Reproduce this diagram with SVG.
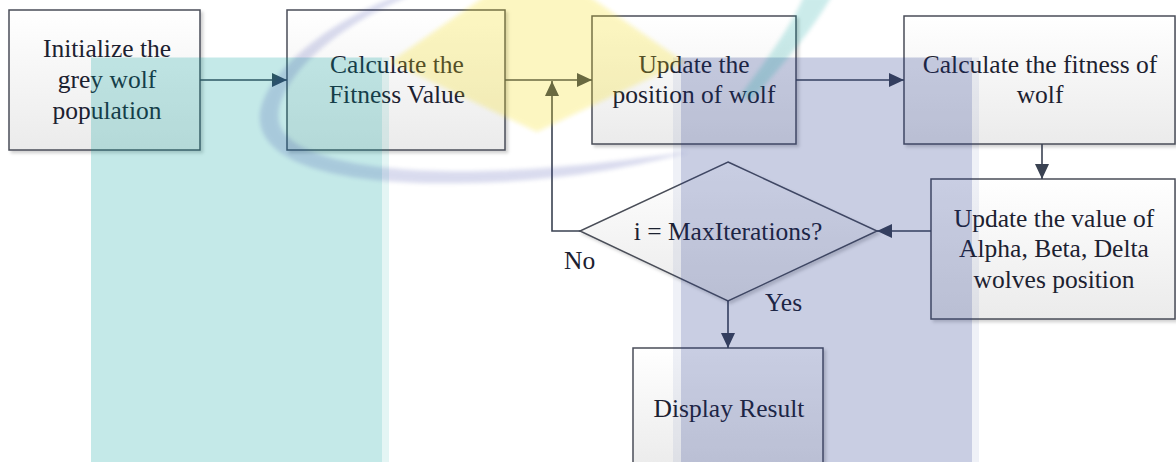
<svg xmlns="http://www.w3.org/2000/svg" width="1176" height="462" viewBox="0 0 1176 462" font-family="'Liberation Serif', 'Times New Roman', serif">
  <defs>
    <linearGradient id="boxFill" x1="0" y1="0" x2="0" y2="1">
      <stop offset="0" stop-color="#ffffff"/>
      <stop offset="1" stop-color="#ebebeb"/>
    </linearGradient>
    <filter id="shadow" x="-10%" y="-10%" width="125%" height="125%">
      <feDropShadow dx="2.5" dy="2.5" stdDeviation="1.5" flood-color="#000000" flood-opacity="0.18"/>
    </filter>
    <filter id="soft" x="-20%" y="-20%" width="140%" height="140%">
      <feGaussianBlur stdDeviation="2.2"/>
    </filter>
    <marker id="arrow" markerUnits="userSpaceOnUse" markerWidth="16" markerHeight="14" refX="15" refY="7" orient="auto">
      <path d="M0,0 L15,7 L0,14 Z" fill="#3a4252"/>
    </marker>
    <style>
      .box { fill: url(#boxFill); stroke: #4a4e58; stroke-width: 1.5; filter: url(#shadow); }
      .lbl { font-family: "Liberation Serif", "Times New Roman", serif; font-size: 25.5px; fill: #1c2130; text-anchor: middle; }
      .tag { font-family: "Liberation Serif", "Times New Roman", serif; font-size: 25.5px; fill: #1c2130; }
      .wire { fill: none; stroke: #3a4252; stroke-width: 1.6; }
      .teal { fill: #00a09b; }
      .navy { fill: #1e328c; }
    </style>
  </defs>

  <rect width="1176" height="462" fill="#ffffff"/>

  <!-- process nodes -->
  <g id="init">
    <rect class="box" x="9" y="10" width="191" height="140"/>
    <text class="lbl" font-family="Liberation Serif, serif" x="107" y="57">Initialize the</text>
    <text class="lbl" font-family="Liberation Serif, serif" x="107" y="88">grey wolf</text>
    <text class="lbl" font-family="Liberation Serif, serif" x="107" y="119">population</text>
  </g>
  <g id="fitness-value">
    <rect class="box" x="287" y="10" width="218" height="140"/>
    <text class="lbl" font-family="Liberation Serif, serif" x="397" y="73">Calculate the</text>
    <text class="lbl" font-family="Liberation Serif, serif" x="397" y="103">Fitness Value</text>
  </g>
  <g id="update-position">
    <rect class="box" x="592" y="16" width="204" height="128"/>
    <text class="lbl" font-family="Liberation Serif, serif" x="694" y="73">Update the</text>
    <text class="lbl" font-family="Liberation Serif, serif" x="694" y="103">position of wolf</text>
  </g>
  <g id="fitness-wolf">
    <rect class="box" x="904" y="16" width="271" height="128"/>
    <text class="lbl" font-family="Liberation Serif, serif" x="1040" y="73">Calculate the fitness of</text>
    <text class="lbl" font-family="Liberation Serif, serif" x="1040" y="103">wolf</text>
  </g>
  <g id="update-leaders">
    <rect class="box" x="931" y="179" width="244" height="140"/>
    <text class="lbl" font-family="Liberation Serif, serif" x="1054" y="227">Update the value of</text>
    <text class="lbl" font-family="Liberation Serif, serif" x="1054" y="257">Alpha, Beta, Delta</text>
    <text class="lbl" font-family="Liberation Serif, serif" x="1054" y="288">wolves position</text>
  </g>
  <g id="check">
    <polygon class="box" points="728,162 877,231 728,301 580,231"/>
    <text class="lbl" font-family="Liberation Serif, serif" x="728" y="240">i = MaxIterations?</text>
  </g>
  <g id="result">
    <rect class="box" x="633" y="348" width="190" height="122"/>
    <text class="lbl" font-family="Liberation Serif, serif" x="729" y="417">Display Result</text>
  </g>

  <!-- connectors -->
  <g id="connectors">
    <line class="wire" x1="200" y1="80" x2="287" y2="80" marker-end="url(#arrow)"/>
    <line class="wire" x1="505" y1="80" x2="592" y2="80" marker-end="url(#arrow)"/>
    <line class="wire" x1="796" y1="80" x2="904" y2="80" marker-end="url(#arrow)"/>
    <line class="wire" x1="1042" y1="144" x2="1042" y2="179" marker-end="url(#arrow)"/>
    <line class="wire" x1="931" y1="231" x2="877" y2="231" marker-end="url(#arrow)"/>
    <polyline class="wire" points="580,231 552,231 552,81" marker-end="url(#arrow)"/>
    <line class="wire" x1="728" y1="301" x2="728" y2="348" marker-end="url(#arrow)"/>
    <text class="tag" font-family="Liberation Serif, serif" x="564" y="269">No</text>
    <text class="tag" font-family="Liberation Serif, serif" x="765" y="311">Yes</text>
  </g>

  <!-- translucent background mark laid over the chart -->
  <g id="mark">
    <rect class="teal" x="91" y="57.5" width="291" height="410" opacity="0.23"/>
    <rect class="teal" x="382" y="57.5" width="7" height="410" opacity="0.105"/>
    <rect class="navy" x="673" y="57.5" width="8" height="410" opacity="0.07"/>
    <rect class="navy" x="681" y="57.5" width="291" height="410" opacity="0.24"/>
    <rect class="navy" x="972" y="57.5" width="7" height="410" opacity="0.07"/>
    <polygon points="537,-40 684,62 537,132 390,62" fill="#f6de10" opacity="0.25" filter="url(#soft)"/>
    <path d="M396,-4 C318,26 256,82 260,122 C266,170 360,186 470,183 C560,181 630,168 690,152 C635,158 570,169 480,171 C382,173 288,160 279,122 C273,88 322,32 410,-4 Z" fill="#28329f" opacity="0.17" filter="url(#soft)"/>
    <path d="M804,-4 L832,-4 C812,30 785,62 752,100 L740,96 C765,62 790,28 804,-4 Z" fill="#00a09b" opacity="0.2" filter="url(#soft)"/>
  </g>
</svg>
